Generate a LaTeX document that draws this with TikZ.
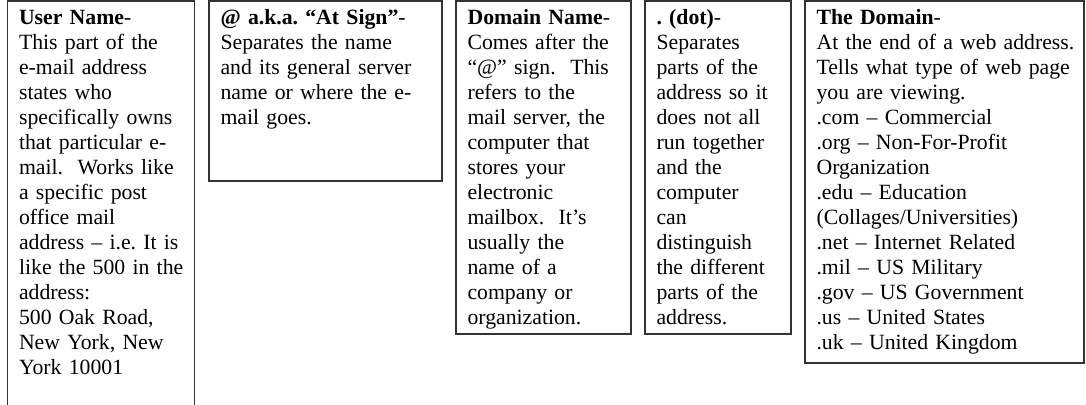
\documentclass[tikz,border=0pt]{standalone}
\usepackage{fontspec}
\setmainfont{Liberation Serif}
\usetikzlibrary{fit}
\begin{document}
\begin{tikzpicture}[x=0.552pt, y=-0.552pt,
    box/.style={draw=black!80, line width=0.9pt, inner sep=0pt},
    txt/.style={anchor=base west, inner sep=0pt, align=left, text width=200pt,
      font=\fontsize{12}{13.8}\selectfont\frenchspacing}]
  \useasboundingbox (0,0) rectangle (1086,404);
  \clip (0,0) rectangle (1086,404);
  \node[box, fit={(7.5,1) (194.5,430)}] (user) {};
  \node[box, fit={(209,1) (442,181)}] (at) {};
  \node[box, fit={(456,1) (631,334)}] (domname) {};
  \node[box, fit={(645,1) (791,334)}] (dot) {};
  \node[box, fit={(805,1) (1084,363)}] (domain) {};
  \node[txt] (usertext) at ([shift={(12,24)}]user.north west)
    {\textbf{User Name}-\\This part of the\\e-mail address\\states who\\specifically owns\\that particular e-\\mail.\ \ Works like\\a specific post\\office mail\\address – i.e. It is\\like the 500 in the\\address:\\500 Oak Road,\\New York, New\\York 10001};
  \node[txt] (attext) at ([shift={(12,24)}]at.north west)
    {\textbf{@ a.k.a. “At Sign”}-\\Separates the name\\and its general server\\name or where the e-\\mail goes.};
  \node[txt] (domnametext) at ([shift={(12,24)}]domname.north west)
    {\textbf{Domain Name}-\\Comes after the\\“@” sign.\ \ This\\refers to the\\mail server, the\\computer that\\stores your\\electronic\\mailbox.\ \ It’s\\usually the\\name of a\\company or\\organization.};
  \node[txt] (dottext) at ([shift={(12,24)}]dot.north west)
    {\textbf{. (dot)}-\\Separates\\parts of the\\address so it\\does not all\\run together\\and the\\computer\\can\\distinguish\\the different\\parts of the\\address.};
  \node[txt] (domaintext) at ([shift={(12,24)}]domain.north west)
    {\textbf{The Domain}-\\At the end of a web address.\\Tells what type of web page\\you are viewing.\\.com – Commercial\\.org – Non-For-Profit\\Organization\\.edu – Education\\(Collages/Universities)\\.net – Internet Related\\.mil – US Military\\.gov – US Government\\.us – United States\\.uk – United Kingdom};
\end{tikzpicture}
\end{document}
